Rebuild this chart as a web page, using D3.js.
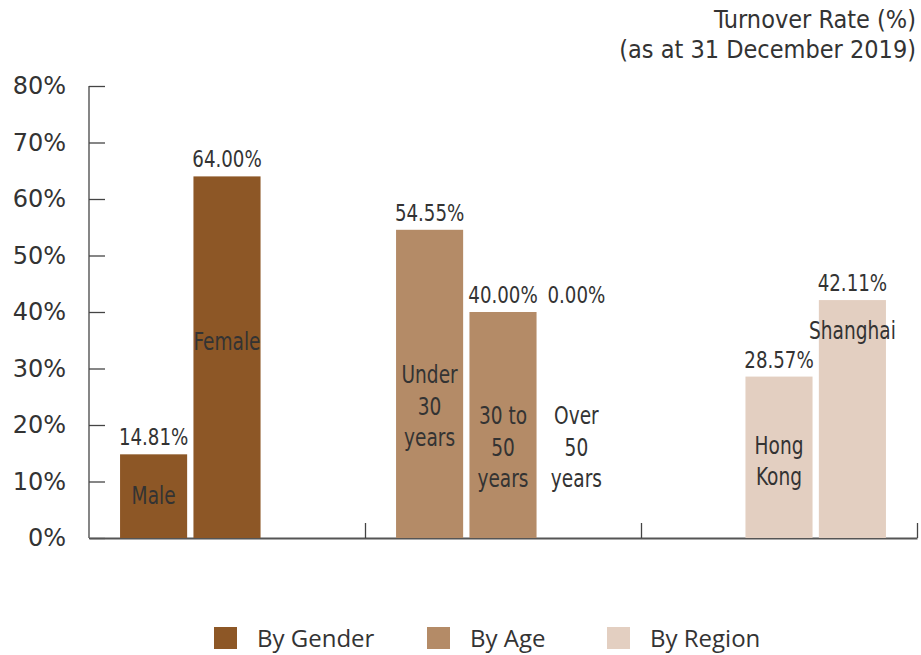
<!DOCTYPE html>
<html>
<head>
<meta charset="utf-8">
<script src="https://cdn.jsdelivr.net/npm/d3@7"></script>
<style>
  body { margin: 0; background: #fff; }
  svg text { fill: #333; }
  .narrow { font-family: "DejaVu Sans Condensed", "DejaVu Sans", sans-serif; font-stretch: condensed; }
  .ticks { font-family: "DejaVu Sans", sans-serif; }
  .legend text { font-family: "Open Sans", "Noto Sans", sans-serif; }
</style>
</head>
<body>
<div id="chart"></div>
<script>
// groups along the x axis
const groups = ["By Gender", "By Age", "By Region"];
const groupColors = ["#8d5726", "#b48b67", "#e3cfc1"];

// bars: category label, group, slot inside its group, value (%)
const categories = [["Male"], ["Female"], ["Under", "30", "years"], ["30 to", "50", "years"], ["Over", "50", "years"], ["Hong", "Kong"], ["Shanghai"]];
const barGroups = ["By Gender", "By Gender", "By Age", "By Age", "By Age", "By Region", "By Region"];
const barSlots = [0, 1, 0, 1, 2, 1, 2];
const values = [14.81, 64.00, 54.55, 40.00, 0.00, 28.57, 42.11];

// where the category text sits, in axis units (baseline of the first line)
const labelLevels = [6.0, 33.3, 27.4, 20.1, 20.1, 14.9, 35.2];

const yTicks = [0, 10, 20, 30, 40, 50, 60, 70, 80];

const width = 921, height = 655;
const margin = { top: 86, right: 4, bottom: 117, left: 89 };

const svg = d3.select("#chart").append("svg")
  .attr("width", width)
  .attr("height", height);

const x0 = d3.scaleBand()
  .domain(groups)
  .range([margin.left, width - margin.right])
  .padding(0);

const x1 = d3.scaleBand()
  .domain([0, 1, 2])
  .range([0, x0.bandwidth()])
  .paddingInner(0.086)
  .paddingOuter(0.423);

const y = d3.scaleLinear()
  .domain([0, 80])
  .range([height - margin.bottom, margin.top]);

const color = d3.scaleOrdinal().domain(groups).range(groupColors);

// y axis
const yAxis = svg.append("g")
  .attr("class", "ticks")
  .attr("transform", `translate(${margin.left},0)`)
  .call(d3.axisLeft(y)
    .tickValues(yTicks)
    .tickFormat(d => d + "%")
    .tickSizeInner(-16)
    .tickSizeOuter(0)
    .tickPadding(23));
yAxis.selectAll("text").attr("font-size", 24).attr("font-family", null).style("fill", "#333");
yAxis.selectAll("line").attr("stroke", "#444").attr("stroke-width", 1.3);
yAxis.select(".domain").remove();
yAxis.append("line")
  .attr("x1", 0).attr("x2", 0)
  .attr("y1", y(80)).attr("y2", y(0))
  .attr("stroke", "#444").attr("stroke-width", 1.3);

// x axis with separators between groups
const xb = d3.scaleLinear().domain([0, groups.length]).range(x0.range());
const xAxis = svg.append("g")
  .attr("transform", `translate(0,${y(0)})`)
  .call(d3.axisBottom(xb)
    .tickValues([1, 2, 3])
    .tickFormat("")
    .tickSizeInner(-15)
    .tickSizeOuter(0));
xAxis.selectAll("line").attr("stroke", "#444").attr("stroke-width", 1.3);
xAxis.select(".domain").attr("stroke", "#555").attr("stroke-width", 2);

const bars = values.map((v, i) => ({
  value: v,
  group: barGroups[i],
  slot: barSlots[i],
  lines: categories[i],
  level: labelLevels[i],
  // an empty bar shares the label height of its left neighbour
  labelValue: v === 0 && i > 0 ? values[i - 1] : v
}));

const barX = d => x0(d.group) + x1(d.slot);
const barMid = d => barX(d) + x1.bandwidth() / 2;

svg.append("g").selectAll("rect")
  .data(bars)
  .join("rect")
  .attr("x", barX)
  .attr("y", d => y(d.value))
  .attr("width", x1.bandwidth())
  .attr("height", d => y(0) - y(d.value))
  .attr("fill", d => color(d.group));

// value labels
svg.append("g").attr("class", "narrow").selectAll("text")
  .data(bars)
  .join("text")
  .attr("transform", d => `translate(${barMid(d)},${y(d.labelValue) - 9}) scale(0.88,1)`)
  .attr("text-anchor", "middle")
  .attr("font-size", 23)
  .text(d => d.value.toFixed(2) + "%");

// category labels
const cat = svg.append("g").attr("class", "narrow").selectAll("text")
  .data(bars)
  .join("text")
  .attr("transform", d => `translate(${barMid(d)},${y(d.level)}) scale(0.86,1)`)
  .attr("text-anchor", "middle")
  .attr("font-size", 24);
cat.selectAll("tspan")
  .data(d => d.lines)
  .join("tspan")
  .attr("x", 0)
  .attr("dy", (d, i) => i === 0 ? 0 : 31.5)
  .text(d => d);

// title
const title = svg.append("text")
  .attr("class", "narrow")
  .attr("x", 916)
  .attr("y", 28)
  .attr("text-anchor", "end")
  .attr("font-size", 25);
title.append("tspan").attr("x", 916).text("Turnover Rate (%)");
title.append("tspan").attr("x", 916).attr("dy", 30).text("(as at 31 December 2019)");

// legend
const legendX = [214, 427, 607];
const legend = svg.append("g").attr("class", "legend")
  .selectAll("g")
  .data(groups)
  .join("g")
  .attr("transform", (d, i) => `translate(${legendX[i]},627)`);
legend.append("rect")
  .attr("width", 23)
  .attr("height", 22)
  .attr("fill", d => color(d));
legend.append("text")
  .attr("x", 43)
  .attr("y", 20)
  .attr("font-size", 24)
  .text(d => d);
</script>
</body>
</html>
